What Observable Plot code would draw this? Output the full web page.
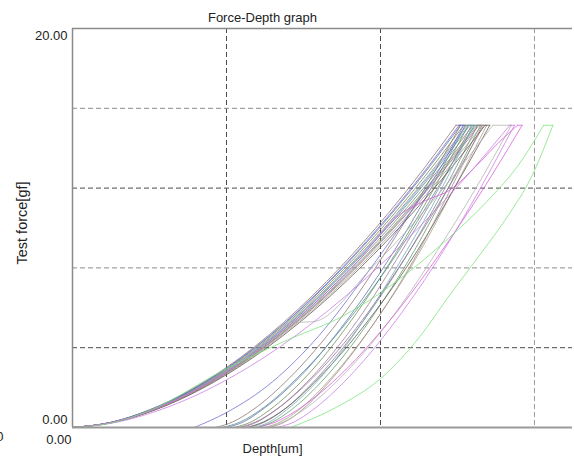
<!DOCTYPE html>
<html><head><meta charset="utf-8">
<script src="https://cdn.jsdelivr.net/npm/d3@7"></script>
<script src="https://cdn.jsdelivr.net/npm/@observablehq/plot@0.6"></script>
<style>body{margin:0;background:#fff} svg{display:block}</style>
</head><body><div id="chart"></div>
<script>
// ---- text ----
const titleText = "Force-Depth graph";
const xLabel = "Depth[um]";
const yLabel = "Test force[gf]";
const yTopLabel = [{f: 20, label: "20.00"}];
const yBottomLabel = [{f: 0, label: "0.00"}];
const xTickLabels = [{h: 0, label: "0.00"}];

// ---- axes / grid (data units: depth um, force gf) ----
const depthDomain = [0, 3.247];
const forceDomain = [0, 20];
const gridDepth = [1, 2, 3];
const gridForce = [4, 8, 12, 16];

// ---- shared force levels of the clustered tests ----
const loadForce = [0, 0.26, 0.88, 2.99, 5.26, 8.06, 10.66, 13.07, 15.15];
const unloadForce = [15.15, 11.87, 8.87, 5.36, 2.49, 0.88, 0.28, 0];

// depth readings for the clustered tests
const t01Load = [0, 0.249, 0.498, 0.996, 1.370, 1.743, 2.042, 2.291, 2.49];
const t01Unload = [2.52, 2.28, 2.04, 1.73, 1.41, 1.17, 1.04, 0.93];
const t02Load = [0, 0.252, 0.504, 1.008, 1.386, 1.764, 2.066, 2.318, 2.52];
const t02Unload = [2.55, 2.32, 2.09, 1.78, 1.47, 1.23, 1.11, 1.00];
const t03Load = [0, 0.254, 0.508, 1.016, 1.397, 1.778, 2.083, 2.337, 2.54];
const t03Unload = [2.57, 2.34, 2.11, 1.81, 1.51, 1.28, 1.16, 1.05];
const t04Load = [0, 0.256, 0.512, 1.024, 1.408, 1.792, 2.099, 2.355, 2.56];
const t04Unload = [2.59, 2.37, 2.14, 1.85, 1.55, 1.32, 1.20, 1.10];
const t05Load = [0, 0.258, 0.516, 1.032, 1.419, 1.806, 2.116, 2.374, 2.58];
const t05Unload = [2.61, 2.36, 2.12, 1.79, 1.46, 1.22, 1.09, 0.97];
const t06Load = [0, 0.26, 0.52, 1.04, 1.43, 1.82, 2.132, 2.392, 2.60];
const t06Unload = [2.63, 2.41, 2.19, 1.89, 1.59, 1.37, 1.25, 1.15];
const t07Load = [0, 0.262, 0.524, 1.048, 1.441, 1.834, 2.148, 2.410, 2.62];
const t07Unload = [2.65, 2.43, 2.22, 1.93, 1.64, 1.42, 1.30, 1.20];
const t08Load = [0, 0.264, 0.528, 1.056, 1.452, 1.848, 2.165, 2.429, 2.64];
const t08Unload = [2.67, 2.43, 2.19, 1.88, 1.56, 1.32, 1.19, 1.08];
const t09Load = [0, 0.266, 0.532, 1.064, 1.463, 1.862, 2.181, 2.447, 2.66];
const t09Unload = [2.69, 2.47, 2.26, 1.97, 1.68, 1.47, 1.35, 1.25];
const t10Load = [0, 0.268, 0.536, 1.072, 1.474, 1.876, 2.198, 2.466, 2.68];
const t10Unload = [2.71, 2.47, 2.24, 1.92, 1.60, 1.37, 1.24, 1.13];
const t11Load = [0, 0.257, 0.514, 1.028, 1.414, 1.799, 2.107, 2.364, 2.57];
const t11Unload = [2.60, 2.39, 2.17, 1.89, 1.61, 1.39, 1.28, 1.18];
const t12Load = [0, 0.263, 0.526, 1.052, 1.447, 1.841, 2.157, 2.420, 2.63];
const t12Unload = [2.66, 2.45, 2.25, 1.97, 1.69, 1.49, 1.38, 1.28];

// individual tests read as [depth, force] pairs
const t13Load = [[0,0],[0.251,0.26],[0.502,0.88],[1.004,2.99],[1.381,5.26],[1.757,8.06],[2.058,10.66],[2.309,13.07],[2.51,15.15]];
const t13Unload = [[2.54,15.15],[2.38,12.9],[2.15,10.3],[1.9,7.6],[1.6,4.6],[1.3,2.3],[1.0,0.75],[0.79,0]];
const t14Load = [[0,0],[0.26,0.26],[0.52,0.88],[1.04,2.99],[1.43,5.26],[1.56,5.3],[1.95,8.06],[2.262,10.66],[2.522,13.07],[2.73,15.15]];
const t14Unload = [[2.85,15.15],[2.61,11.87],[2.37,8.87],[2.06,5.36],[1.74,2.49],[1.50,0.88],[1.37,0.28],[1.26,0]];
const t15Load = [[0,0],[0.26,0.26],[0.52,0.88],[1.04,2.99],[1.43,5.26],[1.82,8.06],[2.13,10.7],[2.30,11.4],[2.45,11.9],[2.62,13.1],[2.77,14.3],[2.89,15.15]];
const t15Unload = [[2.92,15.15],[2.66,11.87],[2.40,8.87],[2.06,5.36],[1.72,2.49],[1.46,0.88],[1.32,0.28],[1.20,0]];
const t16Load = [[0,0],[0.284,0.26],[0.568,0.88],[1.136,2.99],[1.562,5.26],[1.988,8.06],[2.329,10.66],[2.613,13.07],[2.84,15.15]];
const t16Unload = [[2.87,15.15],[2.64,11.87],[2.41,8.87],[2.10,5.36],[1.79,2.49],[1.56,0.88],[1.44,0.28],[1.33,0]];
const t17Load = [[0,0],[0.25,0.22],[0.5,0.85],[1.0,2.95],[1.4,4.4],[1.76,5.6],[2.1,7.3],[2.4,9.2],[2.7,11.4],[2.9,13.2],[3.06,15.15]];
const t17Unload = [[3.12,15.15],[2.97,12.4],[2.844,10.8],[2.65,8.7],[2.455,6.7],[2.25,4.5],[2.0,2.45],[1.71,1.0],[1.416,0]];

const testNames = ["T01","T02","T03","T04","T05","T06","T07","T08","T09","T10","T11","T12","T13","T14","T15","T16","T17"];
const testColors = ["#8b6f6f","#5d6da5","#6a8a50","#9a7890","#4f8f90","#808080","#5f9a65","#8f6f9f","#9f9f80","#605454","#6faaba","#a08585","#6a6ad0","#b0b0b0","#d85ad8","#c87ae4","#78e478"];

// ---- build table ----
const zip = (hs, fs) => hs.map((h, i) => [h, fs[i]]);
const tests = [
  [zip(t01Load, loadForce), zip(t01Unload, unloadForce)],
  [zip(t02Load, loadForce), zip(t02Unload, unloadForce)],
  [zip(t03Load, loadForce), zip(t03Unload, unloadForce)],
  [zip(t04Load, loadForce), zip(t04Unload, unloadForce)],
  [zip(t05Load, loadForce), zip(t05Unload, unloadForce)],
  [zip(t06Load, loadForce), zip(t06Unload, unloadForce)],
  [zip(t07Load, loadForce), zip(t07Unload, unloadForce)],
  [zip(t08Load, loadForce), zip(t08Unload, unloadForce)],
  [zip(t09Load, loadForce), zip(t09Unload, unloadForce)],
  [zip(t10Load, loadForce), zip(t10Unload, unloadForce)],
  [zip(t11Load, loadForce), zip(t11Unload, unloadForce)],
  [zip(t12Load, loadForce), zip(t12Unload, unloadForce)],
  [t13Load, t13Unload],
  [t14Load, t14Unload],
  [t15Load, t15Unload],
  [t16Load, t16Unload],
  [t17Load, t17Unload]
];
const rows = [];
tests.forEach(([load, unload], i) => {
  const name = testNames[i], color = testColors[i];
  load.forEach(([h, f]) => rows.push({key: name + "-load", h, f, color}));
  const top = load[load.length - 1], start = unload[0];
  rows.push({key: name + "-hold", h: top[0], f: top[1], color});
  rows.push({key: name + "-hold", h: start[0], f: start[1], color});
  unload.slice().sort((a, b) => a[0] - b[0]).forEach(([h, f]) => rows.push({key: name + "-unload", h, f, color}));
});

const font = "'Liberation Sans', Arial, sans-serif";
const txt = {fontFamily: font, fontSize: 13, fill: "#222"};

const chart = Plot.plot({
  width: 574, height: 461,
  marginLeft: 72, marginRight: 2, marginTop: 28, marginBottom: 34,
  x: {domain: depthDomain, axis: null},
  y: {domain: forceDomain, axis: null},
  color: {type: "identity"},
  style: {fontFamily: font, background: "#fff"},
  marks: [
    Plot.ruleX(gridDepth, {x: d => d, stroke: d => d === 3 ? "#999" : "#4a4a4a", strokeWidth: 1, strokeDasharray: "5,3"}),
    Plot.ruleY(gridForce, {y: d => d, stroke: d => (d === 8 || d === 16) ? "#8c8c8c" : "#4a4a4a", strokeWidth: 1, strokeDasharray: "5,3"}),
    Plot.line(rows, {x: "h", y: "f", z: "key", stroke: "color", strokeWidth: 0.9, strokeOpacity: 0.85, curve: "monotone-x"}),
    Plot.ruleY([20], {stroke: "#8a8a8a", strokeWidth: 1.5}),
    Plot.ruleX([0], {stroke: "#8a8a8a", strokeWidth: 1.5}),
    Plot.ruleY([0], {stroke: "#9a9a9a", strokeWidth: 2}),
    Plot.text(yTopLabel, {x: 0, y: "f", text: "label", textAnchor: "end", lineAnchor: "middle", dx: -5, dy: 7, ...txt}),
    Plot.text(yBottomLabel, {x: 0, y: "f", text: "label", textAnchor: "end", lineAnchor: "middle", dx: -5, dy: -8, ...txt}),
    Plot.text(xTickLabels, {x: "h", y: 0, text: "label", textAnchor: "end", lineAnchor: "middle", dx: -1, dy: 12, ...txt}),
    Plot.text([titleText], {frameAnchor: "top", lineAnchor: "middle", textAnchor: "middle", dx: -60, dy: -11, ...txt}),
    Plot.text([xLabel], {frameAnchor: "bottom", lineAnchor: "middle", textAnchor: "middle", dx: -50, dy: 21, ...txt}),
    Plot.text([yLabel], {frameAnchor: "left", lineAnchor: "middle", textAnchor: "middle", rotate: -90, dx: -50, dy: -5, ...txt, fontSize: 14.5}),
    Plot.text(["0"], {frameAnchor: "bottom-left", lineAnchor: "middle", textAnchor: "end", dx: -69, dy: 9, ...txt})
  ]
});
document.getElementById("chart").appendChild(chart);
</script>
</body></html>
